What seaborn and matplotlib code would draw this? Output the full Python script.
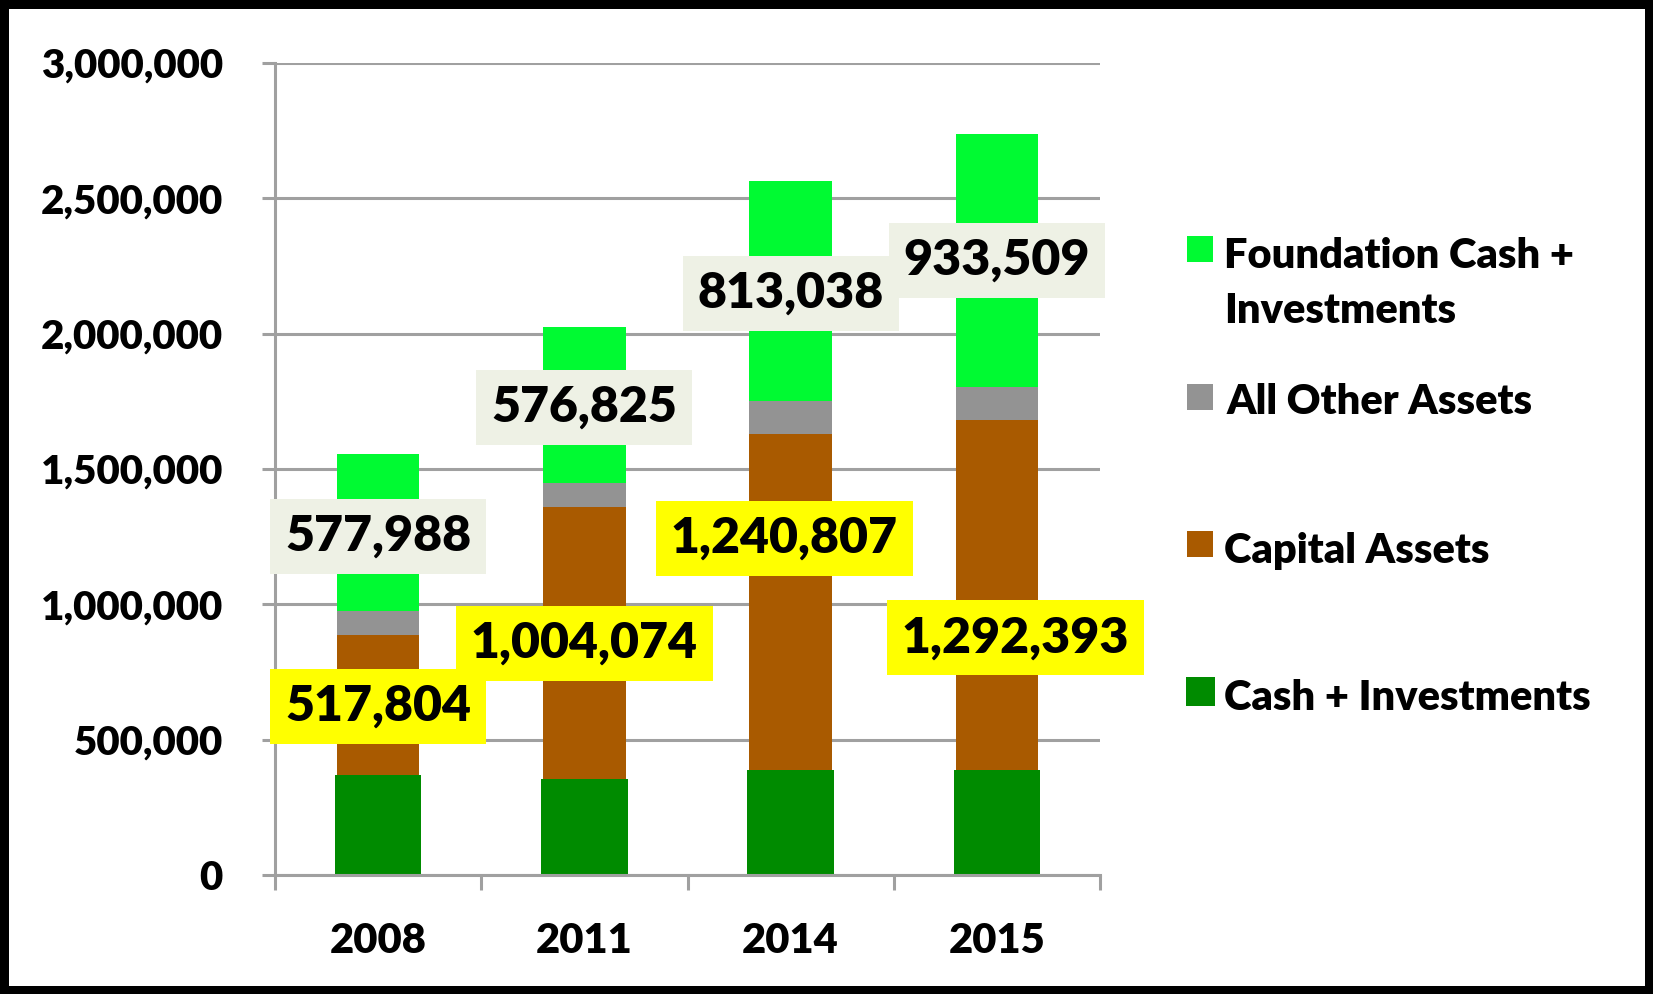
"""
Total assets by year: stacked bars (cash, capital, other, foundation) with value callouts.
"""
import pandas as pd
import seaborn as sns
import matplotlib.pyplot as plt
from matplotlib.patches import Rectangle
from matplotlib.ticker import FuncFormatter

# 1. Data
years = ['2008', '2011', '2014', '2015']
cash_investments = [370000, 354000, 389000, 389000]
capital_assets = [517804, 1004074, 1240807, 1292393]
other_assets = [89000, 89000, 121000, 121000]
foundation_cash = [577988, 576825, 813038, 933509]

series_names = ['Foundation Cash +\nInvestments', 'All Other Assets',
                'Capital Assets', 'Cash + Investments']

# where the callout boxes sit (value units / category offsets)
capital_label_y = [624000, 857000, 1245000, 876000]
capital_label_dx = [0.0, 0.0, -0.03, 0.09]
foundation_label_y = [1252000, 1729000, 2150000, 2272000]

# 2. Styling
sns.set_style('white')
plt.rcParams['font.family'] = ['Lato', 'DejaVu Sans']
plt.rcParams['text.color'] = 'black'
plt.rcParams['xtick.labelcolor'] = 'black'
plt.rcParams['ytick.labelcolor'] = 'black'
FW = 'heavy'

c_found = '#00FA32'
c_other = '#939393'
c_capital = '#A95A00'
c_cash = '#008B00'
grid_c = '#A0A0A0'
W, H = 1653, 994

df = pd.DataFrame({'year': years, 'cash': cash_investments, 'capital': capital_assets,
                   'other': other_assets, 'found': foundation_cash})
df['top_capital'] = df['cash'] + df['capital']
df['top_other'] = df['top_capital'] + df['other']
df['top_found'] = df['top_other'] + df['found']

fig = plt.figure(figsize=(W / 100, H / 100), dpi=100)
fig.patch.set_edgecolor('black')
fig.patch.set_linewidth(12)
ax = fig.add_axes([275 / W, 1 - 875 / H, 825 / W, 812 / H])

# stacked look: draw cumulative totals from the top down
sns.barplot(data=df, x='year', y='top_found', color=c_found, width=0.40, saturation=1, linewidth=0, ax=ax)
sns.barplot(data=df, x='year', y='top_other', color=c_other, width=0.40, saturation=1, linewidth=0, ax=ax)
sns.barplot(data=df, x='year', y='top_capital', color=c_capital, width=0.40, saturation=1, linewidth=0, ax=ax)
sns.barplot(data=df, x='year', y='cash', color=c_cash, width=0.42, saturation=1, linewidth=0, ax=ax)

# 3. Axes
ax.set_xlim(-0.5, 3.5)
ax.set_ylim(0, 3000000)
ax.set_xlabel('')
ax.set_ylabel('')
ax.set_axisbelow(True)
ax.yaxis.grid(True, color=grid_c, linewidth=2.2)
ax.xaxis.grid(False)
for s in ['top', 'right']:
    ax.spines[s].set_visible(False)
for s in ['left', 'bottom']:
    ax.spines[s].set_color(grid_c)
    ax.spines[s].set_linewidth(2.2)

ax.set_yticks(range(0, 3000001, 500000))
ax.yaxis.set_major_formatter(FuncFormatter(lambda v, p: f'{int(v):,}'))
ax.tick_params(axis='y', left=True, length=9.5, width=2.2, color=grid_c, pad=28, labelsize=29)
ax.set_xticks([-0.5, 0.5, 1.5, 2.5, 3.5], [''] * 5)
ax.set_xticks(range(len(years)), years, minor=True)
ax.tick_params(axis='x', which='major', bottom=True, length=11, width=2.2, color=grid_c, direction='out')
ax.tick_params(axis='x', which='minor', bottom=True, length=0, pad=34, labelsize=30)
for lab in ax.get_xticklabels(minor=True) + ax.get_yticklabels():
    lab.set_fontweight(FW)

# 4. Value callouts
for i in range(len(years)):
    ax.text(i + capital_label_dx[i], capital_label_y[i], f'{capital_assets[i]:,}',
            ha='center', va='center', fontsize=36, fontweight=FW, zorder=6,
            bbox=dict(boxstyle='square,pad=0.3', fc='#FFFF00', ec='none'))
    ax.text(i, foundation_label_y[i], f'{foundation_cash[i]:,}',
            ha='center', va='center', fontsize=36, fontweight=FW, zorder=6,
            bbox=dict(boxstyle='square,pad=0.3', fc='#EEF1E5', ec='none'))

# 5. Legend (hand placed to mimic the original layout)
legend_colors = [c_found, c_other, c_capital, c_cash]
sq_centers = [249, 397, 544, 691]
text_x = [1224, 1227, 1224, 1224]
baselines = [268, 414, 563, 710]
for k, name in enumerate(series_names):
    size = 29 if k == 3 else 26
    fig.add_artist(Rectangle(((1200 - size / 2) / W, 1 - (sq_centers[k] + size / 2) / H),
                             size / W, size / H, transform=fig.transFigure,
                             facecolor=legend_colors[k], edgecolor='none'))
    for j, line in enumerate(name.split('\n')):
        fig.text(text_x[k] / W, 1 - (baselines[k] + 55 * j) / H, line,
                 fontsize=30, fontweight=FW, ha='left', va='baseline')

fig.savefig('out.png', dpi=100, edgecolor='black')
